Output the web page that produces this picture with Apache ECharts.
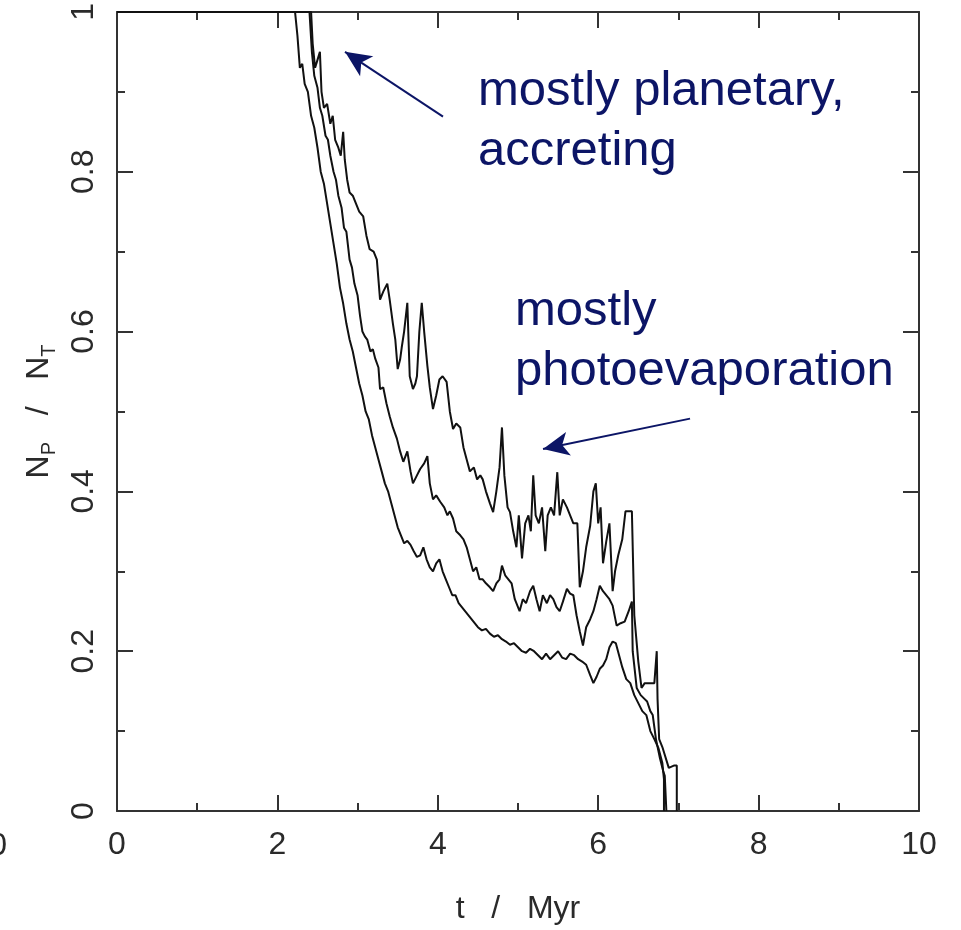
<!DOCTYPE html>
<html>
<head>
<meta charset="utf-8">
<script src="https://cdn.jsdelivr.net/npm/echarts@6/dist/echarts.min.js"></script>
<style>
  html, body { margin: 0; padding: 0; background: #fff; }
  #box { width: 961px; height: 930px; }
</style>
</head>
<body>
<div id="box"></div>
<script>
// [t (Myr), N_P/N_T]
const upperCurve = [
  [0, 1], [2.42, 1], [2.44, 0.96], [2.47, 0.93], [2.50, 0.94], [2.53, 0.95], [2.55, 0.9], [2.58, 0.88],
  [2.62, 0.885], [2.66, 0.86], [2.69, 0.87], [2.72, 0.84], [2.76, 0.83], [2.79, 0.82], [2.82, 0.85],
  [2.84, 0.815], [2.87, 0.79], [2.90, 0.774], [2.94, 0.77], [2.98, 0.76], [3.02, 0.75], [3.07, 0.744],
  [3.11, 0.72], [3.15, 0.703], [3.20, 0.70], [3.24, 0.69], [3.28, 0.64], [3.32, 0.65], [3.37, 0.66],
  [3.40, 0.64], [3.44, 0.61], [3.47, 0.59], [3.50, 0.553], [3.53, 0.565], [3.55, 0.58], [3.58, 0.60],
  [3.62, 0.636], [3.65, 0.544], [3.69, 0.528], [3.72, 0.535], [3.74, 0.544], [3.77, 0.60], [3.80, 0.636],
  [3.83, 0.60], [3.87, 0.557], [3.90, 0.53], [3.94, 0.503], [3.98, 0.52], [4.02, 0.54], [4.06, 0.544],
  [4.11, 0.537], [4.15, 0.50], [4.19, 0.478], [4.23, 0.485], [4.28, 0.48], [4.32, 0.455], [4.36, 0.44],
  [4.40, 0.425], [4.45, 0.43], [4.49, 0.415], [4.53, 0.42], [4.56, 0.415], [4.60, 0.40], [4.65, 0.385],
  [4.69, 0.374], [4.73, 0.40], [4.77, 0.43], [4.80, 0.48], [4.83, 0.42], [4.87, 0.38], [4.90, 0.374],
  [4.94, 0.35], [4.98, 0.33], [5.01, 0.37], [5.05, 0.316], [5.09, 0.36], [5.13, 0.37], [5.16, 0.35],
  [5.19, 0.42], [5.22, 0.37], [5.26, 0.36], [5.30, 0.38], [5.34, 0.325], [5.37, 0.37], [5.41, 0.38],
  [5.45, 0.37], [5.49, 0.424], [5.52, 0.37], [5.56, 0.39], [5.61, 0.38], [5.65, 0.37], [5.69, 0.36],
  [5.74, 0.36], [5.77, 0.28], [5.81, 0.30], [5.85, 0.33], [5.90, 0.357], [5.94, 0.40], [5.97, 0.41],
  [6.00, 0.36], [6.03, 0.38], [6.06, 0.31], [6.10, 0.337], [6.14, 0.36], [6.18, 0.275], [6.21, 0.30],
  [6.25, 0.32], [6.30, 0.34], [6.34, 0.375], [6.42, 0.375], [6.45, 0.245], [6.50, 0.187], [6.54, 0.154],
  [6.58, 0.16], [6.62, 0.16], [6.70, 0.16], [6.73, 0.2], [6.74, 0.14], [6.76, 0.09], [6.80, 0.08],
  [6.88, 0.054], [6.95, 0.057], [6.98, 0.057], [6.98, 0]
];
const middleCurve = [
  [0, 1], [2.40, 1], [2.43, 0.95], [2.46, 0.92], [2.50, 0.905], [2.53, 0.88], [2.56, 0.87], [2.60, 0.845],
  [2.63, 0.84], [2.66, 0.82], [2.70, 0.80], [2.73, 0.79], [2.76, 0.77], [2.80, 0.755], [2.83, 0.73],
  [2.86, 0.725], [2.90, 0.69], [2.93, 0.68], [2.96, 0.66], [3.00, 0.645], [3.03, 0.62], [3.06, 0.60],
  [3.09, 0.594], [3.12, 0.59], [3.16, 0.575], [3.19, 0.578], [3.22, 0.566], [3.26, 0.555], [3.28, 0.528],
  [3.32, 0.53], [3.36, 0.51], [3.40, 0.494], [3.44, 0.48], [3.49, 0.466], [3.53, 0.45], [3.57, 0.437],
  [3.62, 0.45], [3.66, 0.425], [3.69, 0.41], [3.74, 0.42], [3.78, 0.428], [3.83, 0.435], [3.87, 0.444],
  [3.90, 0.41], [3.94, 0.39], [3.98, 0.395], [4.03, 0.387], [4.08, 0.38], [4.12, 0.37], [4.15, 0.375],
  [4.19, 0.366], [4.23, 0.35], [4.28, 0.345], [4.32, 0.34], [4.36, 0.33], [4.40, 0.315], [4.44, 0.30],
  [4.48, 0.305], [4.52, 0.29], [4.56, 0.29], [4.60, 0.285], [4.65, 0.28], [4.69, 0.275], [4.73, 0.285],
  [4.77, 0.29], [4.80, 0.307], [4.84, 0.295], [4.88, 0.29], [4.92, 0.285], [4.96, 0.265], [5.00, 0.255],
  [5.02, 0.25], [5.06, 0.265], [5.10, 0.26], [5.15, 0.275], [5.19, 0.282], [5.23, 0.265], [5.27, 0.25],
  [5.31, 0.27], [5.36, 0.26], [5.40, 0.27], [5.44, 0.265], [5.48, 0.255], [5.52, 0.25], [5.56, 0.262],
  [5.61, 0.278], [5.65, 0.272], [5.69, 0.27], [5.73, 0.245], [5.77, 0.225], [5.81, 0.207], [5.85, 0.23],
  [5.90, 0.24], [5.94, 0.25], [5.98, 0.265], [6.02, 0.282], [6.06, 0.275], [6.10, 0.27], [6.14, 0.265],
  [6.18, 0.257], [6.23, 0.232], [6.28, 0.235], [6.33, 0.237], [6.38, 0.25], [6.42, 0.262], [6.43, 0.2],
  [6.48, 0.154], [6.53, 0.145], [6.58, 0.14], [6.61, 0.137], [6.65, 0.125], [6.68, 0.12], [6.72, 0.09],
  [6.77, 0.066], [6.81, 0.05], [6.83, 0.044], [6.85, 0.044], [6.85, 0]
];
const lowerCurve = [
  [0, 1], [2.22, 1], [2.25, 0.97], [2.28, 0.93], [2.31, 0.935], [2.34, 0.91], [2.38, 0.90], [2.42, 0.87],
  [2.46, 0.855], [2.50, 0.83], [2.54, 0.80], [2.58, 0.785], [2.62, 0.76], [2.66, 0.735], [2.70, 0.71],
  [2.74, 0.685], [2.78, 0.655], [2.82, 0.635], [2.86, 0.61], [2.90, 0.59], [2.94, 0.575], [2.98, 0.555],
  [3.02, 0.535], [3.06, 0.52], [3.10, 0.50], [3.14, 0.49], [3.18, 0.47], [3.22, 0.455], [3.26, 0.44],
  [3.30, 0.425], [3.34, 0.41], [3.38, 0.40], [3.42, 0.385], [3.46, 0.37], [3.50, 0.355], [3.54, 0.345],
  [3.58, 0.335], [3.62, 0.338], [3.66, 0.333], [3.70, 0.325], [3.74, 0.318], [3.78, 0.32], [3.82, 0.33],
  [3.86, 0.315], [3.90, 0.305], [3.94, 0.30], [3.98, 0.31], [4.02, 0.315], [4.06, 0.30], [4.10, 0.29],
  [4.14, 0.28], [4.18, 0.27], [4.22, 0.27], [4.26, 0.26], [4.30, 0.255], [4.34, 0.25], [4.38, 0.245],
  [4.42, 0.24], [4.46, 0.235], [4.50, 0.23], [4.55, 0.226], [4.60, 0.228], [4.65, 0.222], [4.70, 0.218],
  [4.75, 0.22], [4.80, 0.215], [4.85, 0.212], [4.90, 0.208], [4.95, 0.21], [5.00, 0.205], [5.05, 0.2],
  [5.10, 0.198], [5.15, 0.203], [5.20, 0.2], [5.25, 0.195], [5.30, 0.19], [5.35, 0.197], [5.40, 0.19],
  [5.45, 0.195], [5.50, 0.20], [5.55, 0.192], [5.60, 0.19], [5.65, 0.197], [5.70, 0.195], [5.75, 0.19],
  [5.80, 0.187], [5.85, 0.183], [5.90, 0.17], [5.94, 0.16], [5.98, 0.168], [6.02, 0.178], [6.06, 0.182],
  [6.10, 0.19], [6.14, 0.205], [6.18, 0.212], [6.22, 0.21], [6.26, 0.195], [6.30, 0.18], [6.35, 0.165],
  [6.40, 0.16], [6.45, 0.145], [6.50, 0.135], [6.55, 0.125], [6.60, 0.12], [6.65, 0.10], [6.70, 0.09],
  [6.75, 0.079], [6.80, 0.06], [6.82, 0.04], [6.82, 0]
];

// annotation arrows, [from, to] in data coords
const arrowPlanetary = [[4.065, 0.869], [2.843, 0.950]];
const arrowPhotoevap = [[7.145, 0.491], [5.312, 0.453]];

const navy = '#0c1566';
const ink = '#2a2a2a';

const myChart = echarts.init(document.getElementById('box'));

const oAxisCommon = {
    type: 'value',
    axisLine: { show: true, onZero: false, lineStyle: { color: '#333', width: 2 } },
    axisTick: { show: true, inside: true, length: 16, lineStyle: { color: '#333', width: 2 } },
    minorTick: { show: true, splitNumber: 2, length: 8, lineStyle: { color: '#333', width: 2 } },
    splitLine: { show: false },
    minorSplitLine: { show: false },
};

function lineSeries(aData){
    return {
        type: 'line',
        data: aData,
        showSymbol: false,
        symbol: 'none',
        lineStyle: { color: '#111', width: 2 },
        silent: true,
        animation: false,
        clip: true,
    };
}

const option = {
    animation: false,
    grid: { left: 117, top: 11, right: 42, bottom: 117 },
    xAxis: [{
        ...oAxisCommon,
        min: 0, max: 10, interval: 2,
        axisLabel: { margin: 18, fontSize: 32, color: ink, fontFamily: 'Liberation Sans' },
        name: 't   /   Myr',
        nameLocation: 'middle',
        nameGap: 82,
        nameTextStyle: { fontSize: 32, color: ink, fontFamily: 'Liberation Sans' },
    }, {
        ...oAxisCommon,
        position: 'top',
        min: 0, max: 10, interval: 2,
        axisLabel: { show: false },
    }],
    yAxis: [{
        ...oAxisCommon,
        min: 0, max: 1, interval: 0.2,
        axisLabel: { margin: 17, fontSize: 32, color: ink, rotate: 90, fontFamily: 'Liberation Sans' },
        name: '{n|N}{s|P}{n|   /   N}{s|T}',
        nameLocation: 'middle',
        nameGap: 58,
        nameTextStyle: {
            color: ink,
            fontFamily: 'Liberation Sans',
            rich: {
                n: { fontSize: 32, lineHeight: 40, color: ink, fontFamily: 'Liberation Sans' },
                s: { fontSize: 20, lineHeight: 8, verticalAlign: 'bottom', color: ink, fontFamily: 'Liberation Sans' },
            },
        },
    }, {
        ...oAxisCommon,
        position: 'right',
        min: 0, max: 1, interval: 0.2,
        axisLabel: { show: false },
    }],
    series: [
        {
            ...lineSeries(upperCurve),
            markLine: {
                silent: true,
                animation: false,
                symbol: ['none', 'arrow'],
                symbolSize: [18, 26],
                label: { show: false },
                lineStyle: { color: navy, width: 2, type: 'solid' },
                data: [
                    [{ coord: arrowPlanetary[0] }, { coord: arrowPlanetary[1] }],
                    [{ coord: arrowPhotoevap[0] }, { coord: arrowPhotoevap[1] }],
                ],
            },
        },
        lineSeries(middleCurve),
        lineSeries(lowerCurve),
    ],
    graphic: [
        {
            type: 'text', left: 478, top: 61, silent: true,
            style: { text: 'mostly planetary,\naccreting', fill: navy, fontSize: 49, lineHeight: 60,
                     fontFamily: 'Liberation Sans' },
        },
        {
            type: 'text', left: 515, top: 281, silent: true,
            style: { text: 'mostly\nphotoevaporation', fill: navy, fontSize: 49, lineHeight: 60,
                     fontFamily: 'Liberation Sans' },
        },
        {
            // edge of the neighbouring panel's axis label
            type: 'text', x: 7, y: 846, silent: true,
            style: { text: '10', fill: ink, fontSize: 32, align: 'right', verticalAlign: 'middle',
                     fontFamily: 'Liberation Sans' },
        },
    ],
};
myChart.setOption(option);
</script>
</body>
</html>
